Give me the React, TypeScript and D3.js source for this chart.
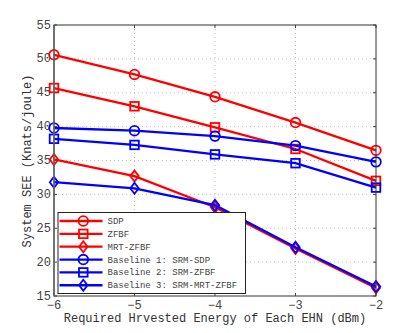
import React from "react";
import * as d3 from "d3";

const xValues = [-6, -5, -4, -3, -2];
const sdp = [50.6, 47.7, 44.4, 40.6, 36.5];
const zfbf = [45.7, 43.0, 39.9, 36.7, 32.0];
const mrtZfbf = [35.15, 32.7, 28.1, 22.0, 16.2];
const base1 = [39.8, 39.4, 38.6, 37.2, 34.8];
const base2 = [38.2, 37.3, 35.9, 34.6, 31.0];
const base3 = [31.8, 30.9, 28.4, 22.2, 16.4];
const xTicks = [-6, -5, -4, -3, -2];
const yTicks = [15, 20, 25, 30, 35, 40, 45, 50, 55];

const seriesNames = [
  "SDP",
  "ZFBF",
  "MRT-ZFBF",
  "Baseline 1: SRM-SDP",
  "Baseline 2: SRM-ZFBF",
  "Baseline 3: SRM-MRT-ZFBF",
];
const seriesValues = [sdp, zfbf, mrtZfbf, base1, base2, base3];
const seriesColors = ["#ff0000", "#ff0000", "#ff0000", "#0000ff", "#0000ff", "#0000ff"];
const seriesMarkers = ["circle", "square", "diamond", "circle", "square", "diamond"];

const W = 415;
const H = 333;
const L = 54, R = 376, T = 25, B = 296;
const FONT = "Liberation Mono, Courier New, Courier, monospace";

function Marker({ type, x, y, color }: { type: string; x: number; y: number; color: string }) {
  if (type === "circle")
    return <circle cx={x} cy={y} r={4.8} fill="none" stroke={color} strokeWidth={1.8} />;
  if (type === "square")
    return <rect x={x - 4.3} y={y - 4.3} width={8.6} height={8.6} fill="none" stroke={color} strokeWidth={1.8} />;
  return (
    <path
      d={`M${x},${y - 5.5}L${x + 4.2},${y}L${x},${y + 5.5}L${x - 4.2},${y}Z`}
      fill="none"
      stroke={color}
      strokeWidth={1.8}
    />
  );
}

export default function App() {
  const x = d3.scaleLinear().domain([-6, -2]).range([L, R]);
  const y = d3.scaleLinear().domain([15, 55]).range([B, T]);
  const line = d3
    .line<number>()
    .x((_, i) => x(xValues[i]))
    .y((d) => y(d));

  const legX = 58, legY = 212.5, legW = 187.5, legH = 81;
  const rowY0 = 221, rowStep = 12.85;

  return (
    <svg width={W} height={H} style={{ position: "absolute", left: 0, top: 0, background: "#fff", fontFamily: FONT }}>
      <rect x={0} y={0} width={W} height={H} fill="#fff" />
      {xTicks.slice(1, -1).map((t) => (
        <line key={"gx" + t} x1={x(t)} x2={x(t)} y1={T} y2={B} stroke="#b0b0b0" strokeWidth={0.8} strokeDasharray="1,3" />
      ))}
      {yTicks.slice(1, -1).map((t) => (
        <line key={"gy" + t} x1={L} x2={R} y1={y(t)} y2={y(t)} stroke="#b0b0b0" strokeWidth={0.8} strokeDasharray="1,3" />
      ))}
      {xTicks.map((t) => (
        <g key={"tx" + t}>
          <line x1={x(t)} x2={x(t)} y1={B} y2={B - 3} stroke="#444" />
          <line x1={x(t)} x2={x(t)} y1={T} y2={T + 3} stroke="#444" />
          <text x={x(t)} y={309} textAnchor="middle" fontSize={12} fill="#444">
            {t < 0 ? "\u2212" + Math.abs(t) : t}
          </text>
        </g>
      ))}
      {yTicks.map((t) => (
        <g key={"ty" + t}>
          <line x1={L} x2={L + 3} y1={y(t)} y2={y(t)} stroke="#444" />
          <line x1={R} x2={R - 3} y1={y(t)} y2={y(t)} stroke="#444" />
          <text x={L - 3} y={y(t) + 3.5} textAnchor="end" fontSize={12} fill="#444">
            {t}
          </text>
        </g>
      ))}
      {seriesValues.map((vals, si) => (
        <g key={"s" + si}>
          <path d={line(vals) || ""} fill="none" stroke={seriesColors[si]} strokeWidth={2.3} />
          {vals.map((v, i) => (
            <Marker key={i} type={seriesMarkers[si]} x={x(xValues[i])} y={y(v)} color={seriesColors[si]} />
          ))}
        </g>
      ))}
      <rect x={L} y={T} width={R - L} height={B - T} fill="none" stroke="#333" strokeWidth={1} />
      <line x1={L} x2={L} y1={T} y2={B} stroke="#666" strokeWidth={1.5} />
      <rect x={legX} y={legY} width={legW} height={legH} fill="#fff" stroke="#222" strokeWidth={1} />
      {seriesNames.map((name, i) => {
        const ry = rowY0 + i * rowStep;
        return (
          <g key={"l" + i}>
            <line x1={59.5} x2={102.5} y1={ry} y2={ry} stroke={seriesColors[i]} strokeWidth={2.3} />
            <Marker type={seriesMarkers[i]} x={83.3} y={ry} color={seriesColors[i]} />
            <text x={107.5} y={ry + 3} fontSize={9} fill="#444">
              {name}
            </text>
          </g>
        );
      })}
      <text x={(L + R) / 2} y={322} textAnchor="middle" fontSize={12} fill="#333">
        Required Hrvested Energy of Each EHN (dBm)
      </text>
      <text transform={`translate(31,161) rotate(-90)`} textAnchor="middle" fontSize={12} fill="#333">
        System SEE (Knats/joule)
      </text>
    </svg>
  );
}
